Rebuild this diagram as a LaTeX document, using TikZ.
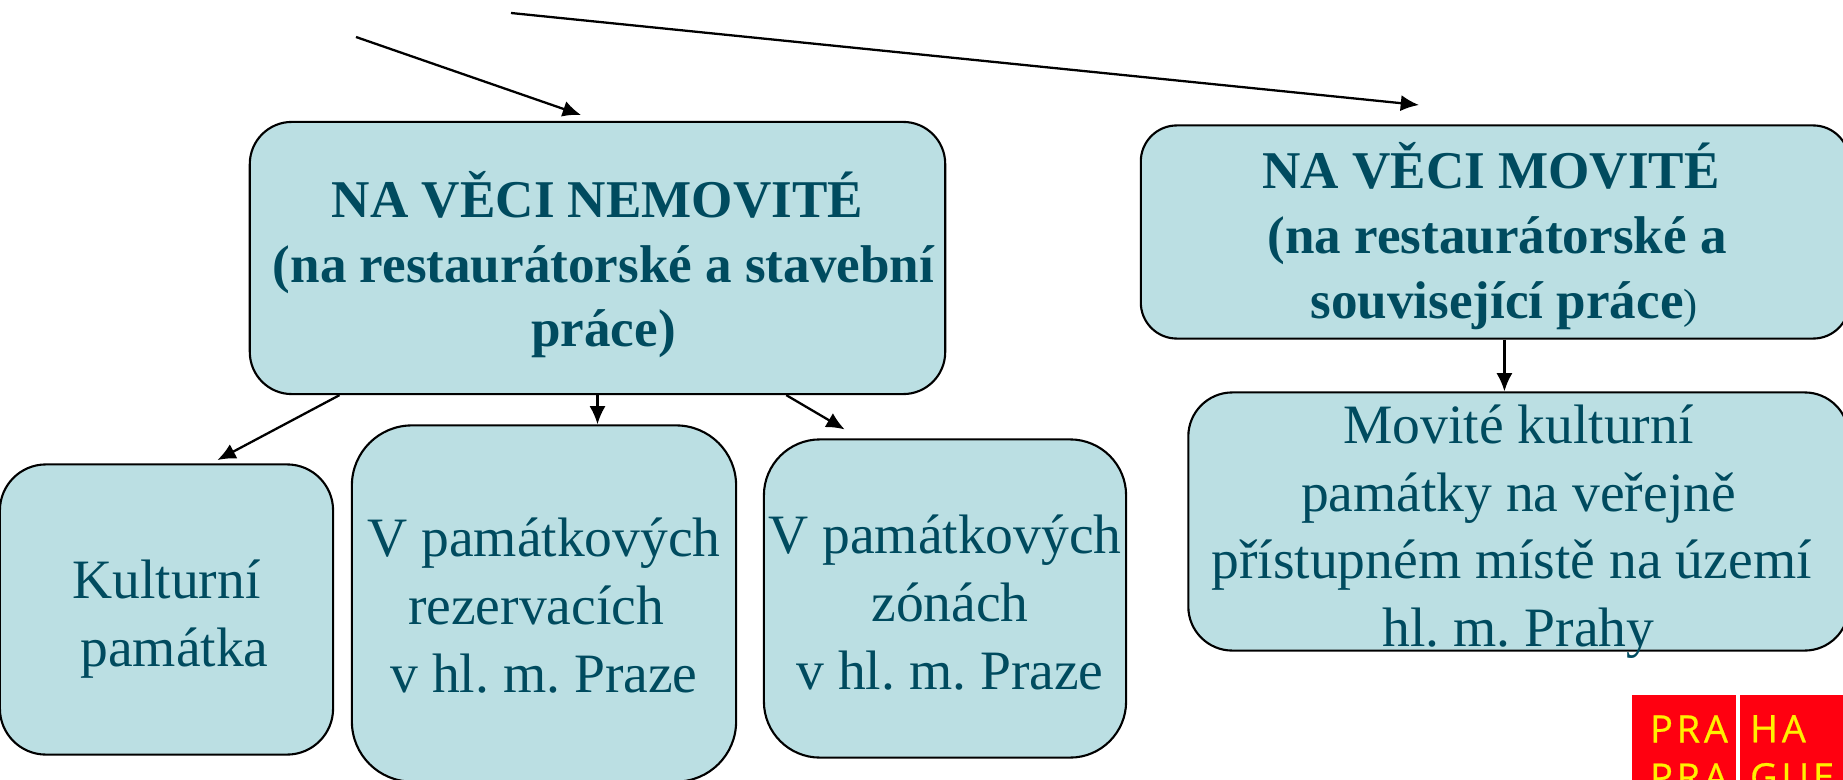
\documentclass[tikz,border=0pt]{standalone}
\usepackage{fontspec}
\usepackage{xcolor}
\setmainfont{Liberation Serif}
\newfontfamily\logofont[LetterSpace=10,FakeBold=0.6]{Open Sans}
\usetikzlibrary{arrows.meta}
\frenchspacing

\definecolor{boxblue}{HTML}{BBDFE3}
\definecolor{textblue}{HTML}{004B5F}
\definecolor{logored}{HTML}{FF0010}
\definecolor{logoyellow}{HTML}{FFF000}

\newcommand{\horni}[1]{\rule{0pt}{#1}}

\tikzset{
	box/.style={draw=black, fill=boxblue, text=textblue, align=center, inner sep=0pt, line width=0.6pt},
	headbox/.style={box, font=\fontsize{15.1}{18.4}\selectfont\bfseries},
	itembox/.style={box, font=\fontsize{15.8}{19.3}\selectfont},
	logobox/.style={fill=logored, text=logoyellow, align=left, inner sep=0pt, minimum width=1.04cm, minimum height=1.16cm, font=\fontsize{10.8}{13.7}\logofont}
}

\begin{document}
\begin{tikzpicture}[x=0.01cm, y=-0.01cm, >={Latex[length=5.2pt,width=4.6pt]}, line width=0.65pt]
	\clip (0,0) rectangle (1843,779);
	\useasboundingbox (0,0) rectangle (1843,779);

	\node[headbox, minimum width=6.95cm, minimum height=2.72cm, rounded corners=0.42cm] (nemovite) at (597.5,258)
		{\horni{17pt}NA VĚCI NEMOVITÉ\\\hspace{0.12cm}(na restaurátorské a stavební\\\hspace{0.12cm}práce)};
	\node[headbox, minimum width=7.08cm, minimum height=2.13cm, rounded corners=0.36cm] (movite) at (1495,232)
		{\horni{15.5pt}\hspace{-0.08cm}NA VĚCI MOVITÉ\\\hspace{0.04cm}(na restaurátorské a\\\hspace{0.18cm}související práce{\mdseries\fontsize{12}{18}\selectfont)}};
	\node[itembox, minimum width=3.33cm, minimum height=2.9cm, rounded corners=0.46cm] (kulturni) at (166.5,609.5)
		{\horni{16.2pt}Kulturní\\\hspace{0.16cm}památka};
	\node[itembox, minimum width=3.84cm, minimum height=3.56cm, rounded corners=0.6cm] (rezervace) at (544,603.5)
		{\horni{12.2pt}V památkových\\\hspace{-0.16cm}rezervacích\\v hl. m. Praze};
	\node[itembox, minimum width=3.62cm, minimum height=3.18cm, rounded corners=0.56cm] (zony) at (945,598.5)
		{\horni{13.1pt}V památkových\\\hspace{0.1cm}zónách\\\hspace{0.1cm}v hl. m. Praze};
	\node[itembox, inner ysep=-6pt, minimum width=6.6cm, minimum height=2.58cm, rounded corners=0.44cm] (pamatky) at (1518.5,521.5)
		{\horni{16.8pt}Movité kulturní\\památky na veřejně\\\hspace{-0.14cm}přístupném místě na území\\hl. m. Prahy};

	\node[logobox] (logol) at (1684,753) {\hspace{0.1cm}PRA\\\hspace{0.1cm}PRA};
	\node[logobox] (logor) at (1792,753) {HA\\GUE};

	\coordinate (sipka1) at (356,37);
	\coordinate (cil1) at (581,115);
	\coordinate (sipka2) at (511,13);
	\coordinate (cil2) at (1419,105);

	\path [->] (sipka1) edge (cil1);
	\path [->] (sipka2) edge (cil2);
	\path [->] (nemovite.208) edge[shorten >=2pt] (kulturni.73);
	\path [->] (nemovite.south) edge (rezervace.north -| nemovite.south);
	\path [->] (nemovite.324) edge[shorten >=5pt] (zony.118);
	\path [->] (movite.275.4) edge (movite.275.4 |- pamatky.north);
\end{tikzpicture}
\end{document}
